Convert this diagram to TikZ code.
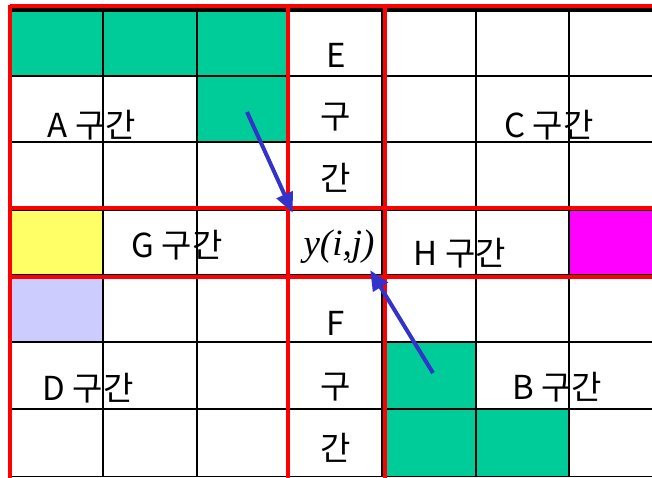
\documentclass[tikz,border=0pt]{standalone}
\usepackage{fontspec}
\setmainfont{Noto Sans CJK KR}
\newfontfamily\yfont{Liberation Serif}
\usepackage{xcolor}
\usetikzlibrary{arrows.meta}
\definecolor{cellgreen}{RGB}{0,204,153}
\definecolor{cellyellow}{RGB}{255,255,102}
\definecolor{celllilac}{RGB}{204,204,255}
\definecolor{cellpink}{RGB}{255,0,255}
\definecolor{arrowblue}{RGB}{51,51,204}

\begin{document}
\begin{tikzpicture}[x=1pt,y=-1pt,
  gugan/.style={font=\fontsize{33}{33}\selectfont,inner sep=0pt},
  redline/.style={red,line width=4pt},
  gridline/.style={black,line width=1.7pt},
  pointer/.style={arrowblue,line width=4pt,-{Triangle[length=20pt,width=17pt]}}]
\useasboundingbox (0,0) rectangle (652,478);
% coloured cells
\fill[cellgreen](10,10)rectangle(288,76) (197,76)rectangle(288,142)
  (383,342)rectangle(476,409) (383,409)rectangle(569,477);
\fill[cellyellow](10,208)rectangle(103,276);
\fill[celllilac](10,276)rectangle(103,342);
\fill[cellpink](569,208)rectangle(652,276);
% grid
\draw[gridline](103,10)--(103,477) (197,10)--(197,477) (288,10)--(288,477)
  (382,10)--(382,477) (476,10)--(476,477) (569,10)--(569,477);
\draw[gridline](10,76)--(652,76) (10,142)--(652,142) (10,210)--(652,210)
  (10,275)--(652,275) (10,342)--(652,342) (10,409)--(652,409) (10,476.5)--(652,476.5);
\draw[black,line width=3.5pt](10,10)--(652,10);
% red lines
\draw[redline](10,6.5)--(652,6.5) (10,5)--(10,478);
\draw[redline](288,5)--(288,478) (385,5)--(385,478);
\draw[redline](10,208)--(652,208) (10,277)--(652,277);
% labels
\draw(92,125)node[gugan](zoneA){A 구간}
  (549,125)node[gugan](zoneC){C 구간}
  (177,245)node[gugan](zoneG){G 구간}
  (460,253)node[gugan](zoneH){H 구간}
  (88,388)node[gugan](zoneD){D 구간}
  (557,387)node[gugan](zoneB){B 구간};
\draw(336,55)node[gugan](e1){E}
  (336,117)node[gugan](e2){구}
  (336,178)node[gugan](e3){간}
  (336,323)node[gugan](f1){F}
  (336,387)node[gugan](f2){구}
  (336,448)node[gugan](f3){간};
\node[minimum width=96pt,minimum height=68pt,inner sep=0pt] (cell) at (336,242) {};
\node[font=\fontsize{37}{37}\selectfont\yfont\itshape,inner sep=0pt] (yij) at (339,247) {y(i,j)};
% arrows
\coordinate (srcA) at (247,112);
\coordinate (srcB) at (433,373);
\draw[pointer](srcA)--([shift={(5,5)}]cell.north west);
\draw[pointer](srcB)--([shift={(-14,-6)}]cell.south east);
\end{tikzpicture}
\end{document}
